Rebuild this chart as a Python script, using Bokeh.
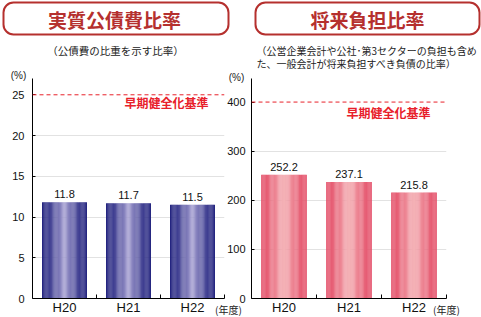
import numpy as np
from bokeh.plotting import figure
from bokeh.models import Range1d, FixedTicker, Span, Label, BoxAnnotation
from bokeh.layouts import row, column
from bokeh.core.properties import value
from bokeh.embed import file_html
from bokeh.resources import INLINE

# ---- data ----
years = ["H20", "H21", "H22"]
ratio_debt = [11.8, 11.7, 11.5]          # 実質公債費比率 (%)
ratio_future = [252.2, 237.1, 215.8]     # 将来負担比率 (%)
limit_debt = 25                          # 早期健全化基準
limit_future = 400
yticks_debt = [0, 5, 10, 15, 20, 25]
yticks_future = [0, 100, 200, 300, 400]
value_labels_debt = ["11.8", "11.7", "11.5"]
value_labels_future = ["252.2", "237.1", "215.8"]

H = 317
W = 481
JP = "Noto Sans CJK JP"
NUM = "Liberation Sans"
TITLE_RED = "#b5302e"
LIMIT_RED = "#e8202a"


def hex2rgb(h):
    h = h.lstrip("#")
    return np.array([int(h[i:i + 2], 16) for i in (0, 2, 4)], dtype=float)


def mix(c1, c2, t):
    a, b = hex2rgb(c1), hex2rgb(c2)
    c = a + (b - a) * t
    return "#%02x%02x%02x" % tuple(int(round(v)) for v in c)


def make_panel(width, bl, br, bt, ymax, values, vlabels, yticks, limit,
               edge, mid, standoff):
    p = figure(width=width, height=H, output_backend="svg", toolbar_location=None,
               x_range=Range1d(0, 3), y_range=Range1d(0, ymax),
               min_border_left=bl, min_border_right=br, min_border_top=bt,
               min_border_bottom=0)
    p.outline_line_color = None
    p.background_fill_alpha = 0
    p.border_fill_alpha = 0
    p.xgrid.visible = False
    p.ygrid.ticker = FixedTicker(ticks=[t for t in yticks if 0 < t < limit])
    p.ygrid.grid_line_color = "#e2e2e2"

    ya = p.yaxis[0]
    ya.ticker = FixedTicker(ticks=yticks)
    ya.major_tick_in = 3
    ya.major_tick_out = 0
    ya.minor_tick_line_color = None
    ya.axis_line_color = "black"
    ya.major_label_text_font = NUM
    ya.major_label_text_font_size = "11px"
    ya.major_label_text_color = "#111111"
    ya.major_label_standoff = standoff

    xa = p.xaxis[0]
    xa.ticker = FixedTicker(ticks=[0.5, 1.5, 2.5], minor_ticks=[1, 2, 3])
    xa.major_label_overrides = {0.5: years[0], 1.5: years[1], 2.5: years[2]}
    xa.major_tick_line_color = None
    xa.major_tick_in = 0
    xa.major_tick_out = 0
    xa.minor_tick_in = 4
    xa.minor_tick_out = 0
    xa.axis_line_color = "black"
    xa.major_label_text_font = NUM
    xa.major_label_text_font_size = "13px"
    xa.major_label_text_color = "#111111"
    xa.major_label_standoff = 1

    # gradient bars built from thin strips
    N = 40
    w = 0.7
    xs, tops, cols = [], [], []
    for i, v in enumerate(values):
        for k in range(N):
            t = -1 + (k + 0.5) * 2 / N
            f = (1 - abs(t)) ** 1.3
            xs.append(i + 0.5 - w / 2 + (k + 0.5) * w / N)
            tops.append(v)
            cols.append(mix(edge, mid, f))
    p.vbar(x=xs, top=tops, width=w / N * 1.15, color=cols, line_color=None)

    for i, (v, s) in enumerate(zip(values, vlabels)):
        p.add_layout(Label(x=i + 0.5, y=v, text=s, y_offset=4,
                           text_align="center", text_baseline="bottom",
                           text_font=NUM, text_font_size="11px",
                           text_color="#111111"))

    p.add_layout(Span(location=limit, dimension="width", line_color=LIMIT_RED,
                      line_dash="4 3", line_width=1))
    return p


# ---- background layer with titles and free texts (pixel coordinates) ----
bg = figure(width=W, height=H, output_backend="svg", toolbar_location=None,
            x_range=Range1d(0, W), y_range=Range1d(H, 0),
            min_border=0, x_axis_type=None, y_axis_type=None)
bg.outline_line_color = None
bg.grid.visible = False

for (x0, x1) in [(3, 228), (255, 479)]:
    bg.add_layout(BoxAnnotation(left=x0, right=x1, top=2, bottom=34,
                                fill_alpha=0, line_color=TITLE_RED,
                                line_alpha=1, line_width=2, border_radius=10))


def txt(text, x, y, size="11px", color="#222222", align="left", bold=False,
        font=JP):
    bg.text(x=[x], y=[y], text=[text], text_align=align,
            text_baseline="middle", text_font=value(font),
            text_font_size=size, text_color=color,
            text_font_style="bold" if bold else "normal")


txt("実質公債費比率", 114, 19, size="19px", color=TITLE_RED, align="center", bold=True)
txt("将来負担比率", 367, 19, size="19px", color=TITLE_RED, align="center", bold=True)
txt("（公債費の比重を示す比率）", 115, 50, size="10.5px", align="center")
txt("（公営企業会計や公社･第3セクターの負担も含め", 256, 50, size="10px")
txt("た、一般会計が将来負担すべき負債の比率）", 256, 63, size="10px")
txt("(%)", 18, 75, size="10px", align="center", font=NUM)
txt("(%)", 236, 77, size="10px", align="center", font=NUM)
txt("早期健全化基準", 166, 102, size="12px", color=LIMIT_RED, align="center", bold=True)
txt("早期健全化基準", 388, 112, size="12px", color=LIMIT_RED, align="center", bold=True)
txt("(年度)", 228, 309, size="10px", align="center")
txt("(年度)", 446, 309, size="10px", align="center")

# ---- charts ----
pl = make_panel(243, 32, 19, 77, 27, ratio_debt, value_labels_debt,
                yticks_debt, limit_debt, "#20217d", "#a6a0d2", 8)
pr = make_panel(257, 26, 35, 78, 448, ratio_future, value_labels_future,
                yticks_future, limit_future, "#e44e68", "#f5b4b8", 6)
pr.margin = (0, 0, 0, -19)

charts = row(pl, pr, spacing=0)
charts.margin = (-H, 0, 0, 0)
layout = column(bg, charts, spacing=0)
open("out.html", "w").write(file_html(layout, INLINE))
